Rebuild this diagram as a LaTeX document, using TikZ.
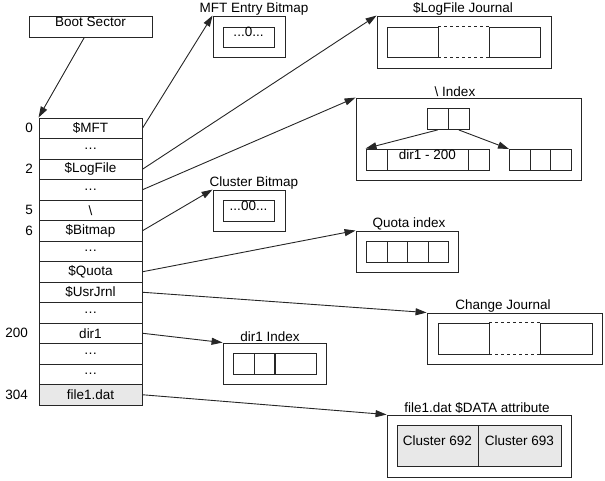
\documentclass[tikz,border=0pt]{standalone}
\usepackage{fontspec}
\setmainfont{Liberation Sans}
\usetikzlibrary{arrows.meta,fit,calc}

\tikzset{
  frame/.style={draw=black!85, line width=.9pt, inner sep=0pt},
  row/.style={frame, minimum width=103pt, minimum height=20.5pt},
  cell/.style={frame, minimum width=20.5pt, minimum height=21pt, anchor=north west},
  title/.style={anchor=south, inner sep=1pt},
  ptr/.style={draw=black!85, line width=.9pt, -{Triangle[length=11pt,width=7pt]}},
}

\begin{document}
\begin{tikzpicture}[x=1pt,y=-1pt,font=\fontsize{13.5}{15}\selectfont]
\useasboundingbox (0,0) rectangle (605,480);
% Boot sector
\node[frame, fit={(29,16) (152,37)}] (boot) {Boot Sector};
% MFT
\foreach \txt [count=\i from 0] in {\$MFT, \ldots, \$LogFile, \ldots, \textbackslash,
    \$Bitmap, \ldots, \$Quota, \$UsrJrnl, \ldots, dir1, \ldots, \ldots}
  \node[row] (r\i) at (90.5,{128.25+20.5*\i}) {\txt};
\node[row, fill=black!9] (r13) at (90.5,{128.25+20.5*13}) {file1.dat};
\foreach \i/\num/\xr in {0/0/33, 2/2/33, 4/5/33, 5/6/33, 10/200/28, 13/304/28}
  \node[anchor=east, inner sep=0pt] (n\i) at (\xr,{128.25+20.5*\i}) {\num};
\draw[ptr] ($(boot.south west)!.45!(boot.south east)$) -- (r0.north west);
% MFT Entry Bitmap
\node[frame, fit={(213,16) (285,57)}] (mftbmp) {};
\node[frame, fit={(223,27) (274,47)}] (mftbits) {...0...};
\node[title] (mftttl) at (254,16) {MFT Entry Bitmap};
% $LogFile Journal
\node[frame, fit={(377,16) (551,68)}] (logj) {};
\node[frame, fit={(387,27) (438,57)}] (loga) {};
\node[frame, fit={(489,27) (540,57)}] (logb) {};
\draw[frame, dashed] (loga.north east) -- (logb.north west)
                     (loga.south east) -- (logb.south west);
\node[title] (logttl) at (463,16) {\$LogFile Journal};
% \ Index
\node[frame, fit={(356,98) (581,180)}] (idx) {};
\node[title] (idxttl) at (455,98) {\textbackslash{} Index};
\node[cell] (idxa) at (427,108) {};
\node[cell] (idxb) at (448,108) {};
\node[frame, fit={(366,149) (387,170)}] (lfa) {};
\node[frame, fit={(387,149) (468,170)}] (lfb) {dir1 - 200};
\node[frame, fit={(468,149) (489,170)}] (lfc) {};
\foreach \i in {0,1,2}
  \node[cell] (rf\i) at ({509+20.7*\i},149) {};
\draw[ptr] (idxa.south) -- (lfa.north west);
\draw[ptr] (idxb.south) -- (rf0.north west);
% Cluster Bitmap
\node[frame, fit={(213,190) (285,231)}] (clbmp) {};
\node[frame, fit={(223,200) (274,221)}] (clbits) {...00...};
\node[title] (clttl) at (254,190) {Cluster Bitmap};
% Quota index
\node[frame, fit={(356,231) (458,272)}] (quota) {};
\foreach \i in {0,...,3}
  \node[cell] (q\i) at ({366+20.5*\i},241) {};
\node[title] (qttl) at (409,231) {Quota index};
% Change Journal
\node[frame, fit={(427,313) (602,364)}] (chj) {};
\node[frame, fit={(438,323) (489,354)}] (cha) {};
\node[frame, fit={(540,323) (592,354)}] (chb) {};
\draw[frame, dashed] (cha.north east) -- (chb.north west)
                     (cha.south east) -- (chb.south west);
\node[title] (chttl) at (503,313) {Change Journal};
% dir1 Index
\node[frame, fit={(223,343) (326,384)}] (dirx) {};
\node[cell] (da) at (233,353) {};
\node[cell] (db) at (254,353) {};
\node[frame, fit={(274,353) (316,374)}] (dc) {};
\node[title] (dirttl) at (270,343) {dir1 Index};
% file1.dat $DATA
\node[frame, fit={(387,415) (571,477)}] (data) {};
\node[frame, fill=black!9, fit={(397,425) (478,466)}] (cla) {Cluster 692};
\node[frame, fill=black!9, fit={(478,425) (561,466)}] (clb) {Cluster 693};
\node[title] (datattl) at (477,415) {file1.dat \$DATA attribute};
% Pointers
\draw[ptr] (r0.east) -- (mftbmp.north west);
\draw[ptr] (r2.east) -- (logj.north west);
\draw[ptr] (r3.east) -- (idx.north west);
\draw[ptr] (r5.east) -- (clbmp.north west);
\draw[ptr] (r7.east) -- (quota.north west);
\draw[ptr] (r8.east) -- (chj.north west);
\draw[ptr] (r10.east) -- (dirx.north west);
\draw[ptr] (r13.east) -- (data.north west);
\end{tikzpicture}
\end{document}
